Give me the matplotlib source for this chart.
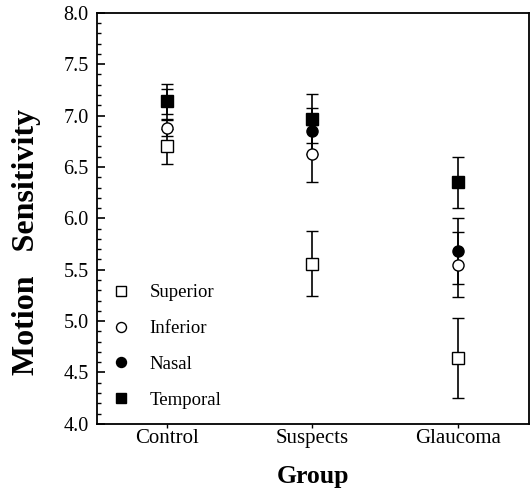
import numpy as np
import matplotlib
matplotlib.use("Agg")
import matplotlib.pyplot as plt
from matplotlib.ticker import MultipleLocator

plt.rcParams['font.family'] = ['Liberation Serif', 'DejaVu Serif']

groups = ["Control", "Suspects", "Glaucoma"]
superior = [6.70, 5.56, 4.64]
superior_err = [0.17, 0.32, 0.39]
inferior = [6.88, 6.63, 5.55]
inferior_err = [0.08, 0.28, 0.32]
nasal = [7.14, 6.85, 5.68]
nasal_err = [0.12, 0.22, 0.32]
temporal = [7.14, 6.97, 6.35]
temporal_err = [0.17, 0.24, 0.25]

fig = plt.figure(figsize=(5.30, 4.94), dpi=100)
ax = fig.add_axes([0.183, 0.142, 0.815, 0.832])

x = np.arange(1, len(groups) + 1)
series = [
    (superior, superior_err, 's', 'white', 'Superior'),
    (inferior, inferior_err, 'o', 'white', 'Inferior'),
    (nasal, nasal_err, 'o', 'black', 'Nasal'),
    (temporal, temporal_err, 's', 'black', 'Temporal'),
]
for vals, err, m, fc, lab in series:
    ax.errorbar(x, vals, yerr=err, fmt=m, mfc=fc, mec='black', mew=1.0,
                ms=8, color='black', ecolor='black', elinewidth=1.2,
                capsize=4, capthick=1.2, label=lab)

ax.set_xlim(0.52, 3.49)
ax.set_ylim(4.0, 8.0)
ax.set_xticks(x)
ax.set_xticklabels(groups, fontsize=15)
ax.yaxis.set_major_locator(MultipleLocator(0.5))
ax.yaxis.set_minor_locator(MultipleLocator(0.1))
ax.yaxis.set_major_formatter(matplotlib.ticker.FormatStrFormatter('%.1f'))
ax.tick_params(axis='y', which='major', direction='in', length=6, width=1.2,
               labelsize=14.5, pad=6)
ax.tick_params(axis='y', which='minor', direction='in', length=3, width=1.0)
ax.tick_params(axis='x', direction='out', length=3, width=1.0, pad=1)
for s in ax.spines.values():
    s.set_linewidth(1.3)

ax.set_ylabel("Motion   Sensitivity", fontsize=23, fontweight='bold')
ax.yaxis.set_label_coords(-0.129, 0.443)
ax.set_xlabel("Group", fontsize=18.5, fontweight='bold', labelpad=12)

handles, labels = ax.get_legend_handles_labels()
handles = [h[0] for h in handles]
ax.legend(handles, labels, loc='lower left', bbox_to_anchor=(0.0, 0.0),
          frameon=False, fontsize=13.5, labelspacing=1.0, handletextpad=1.0,
          handlelength=1.0, markerscale=0.9, borderaxespad=0.3,
          borderpad=0.5)

fig.savefig("out.png", dpi=100)
